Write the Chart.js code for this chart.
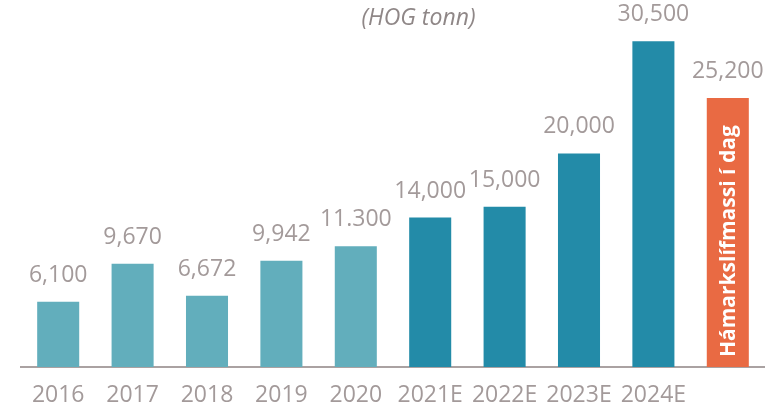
<!DOCTYPE html>
<html lang="is">
<head>
    <meta charset="UTF-8">
    <title>HOG tonn</title>
    <style>
        html, body { margin: 0; padding: 0; background: #ffffff; }
        .chartBox { width: 765px; height: 407px; }
    </style>
</head>
<body>
    <div class="chartBox">
        <canvas id="myChart"></canvas>
    </div>
    <script src="https://cdn.jsdelivr.net/npm/chart.js@4/dist/chart.umd.min.js"></script>
    <script>
        // Data
        const years = ['2016', '2017', '2018', '2019', '2020', '2021E', '2022E', '2023E', '2024E', ''];
        const tonnes = [6100, 9670, 6672, 9942, 11300, 14000, 15000, 20000, 30500, 25200];
        const valueLabels = ['6,100', '9,670', '6,672', '9,942', '11.300', '14,000', '15,000', '20,000', '30,500', '25,200'];
        const barColors = ['#62aebc', '#62aebc', '#62aebc', '#62aebc', '#62aebc',
            '#238ba8', '#238ba8', '#238ba8', '#238ba8', '#e96a43'];
        const unitText = '(HOG tonn)';
        const lastBarText = 'Hámarkslífmassi í dag';

        const textGray = '#a39a9a';
        const fontFamily = '"Open Sans", "Liberation Sans", sans-serif';

        // Draws the value over each bar, the unit text and the text inside the last bar
        const labelPlugin = {
            id: 'labelPlugin',
            afterDatasetsDraw(chart) {
                const ctx = chart.ctx;
                const meta = chart.getDatasetMeta(0);
                ctx.save();
                ctx.fillStyle = textGray;
                ctx.font = '23px ' + fontFamily;
                ctx.textAlign = 'center';
                ctx.textBaseline = 'alphabetic';
                meta.data.forEach((bar, i) => {
                    ctx.fillText(valueLabels[i], bar.x, bar.y - 20);
                });

                // text inside the orange bar, reading upwards
                const last = meta.data[meta.data.length - 1];
                ctx.translate(last.x, last.base - 10);
                ctx.rotate(-Math.PI / 2);
                ctx.fillStyle = '#ffffff';
                ctx.font = 'bold 21px ' + fontFamily;
                ctx.textAlign = 'left';
                ctx.textBaseline = 'middle';
                ctx.fillText(lastBarText, 0, 1);
                ctx.restore();

                // unit text at the top
                ctx.save();
                ctx.fillStyle = '#8f8787';
                ctx.font = 'italic 23px ' + fontFamily;
                ctx.textAlign = 'center';
                ctx.textBaseline = 'middle';
                ctx.fillText(unitText, chart.width * 0.547, 18);
                ctx.restore();
            }
        };

        const data = {
            labels: years,
            datasets: [{
                data: tonnes,
                backgroundColor: barColors,
                borderWidth: 0,
                barPercentage: 0.565,
                categoryPercentage: 1
            }]
        };

        const config = {
            type: 'bar',
            data,
            options: {
                responsive: true,
                maintainAspectRatio: false,
                animation: false,
                layout: { padding: { left: 21, right: 0, top: 4, bottom: 0 } },
                plugins: {
                    legend: { display: false },
                    tooltip: { enabled: false }
                },
                scales: {
                    x: {
                        grid: { display: false, drawTicks: false },
                        border: { display: true, color: '#aaa2a2', width: 2 },
                        ticks: {
                            color: textGray,
                            font: { family: fontFamily, size: 23, lineHeight: 1 },
                            padding: 17
                        },
                        // keep the axis line at the same height as the original
                        afterFit(scale) { scale.height = 40; }
                    },
                    y: {
                        display: false,
                        min: 0,
                        max: 34000
                    }
                }
            },
            plugins: [labelPlugin]
        };

        const myChart = new Chart(document.getElementById('myChart'), config);
    </script>
</body>
</html>
